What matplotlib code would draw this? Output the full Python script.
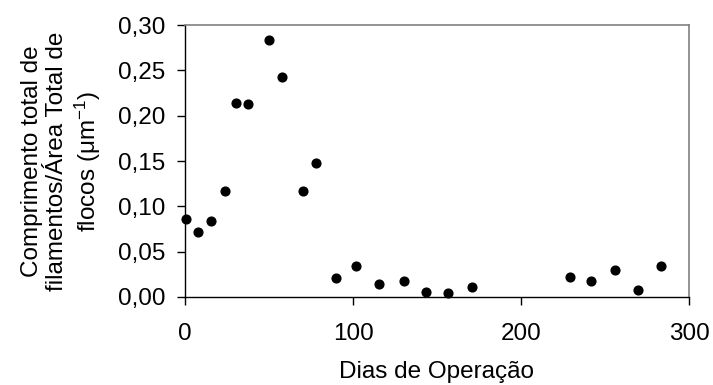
import matplotlib
matplotlib.use('Agg')
import matplotlib.pyplot as plt

plt.rcParams['font.family'] = ['Liberation Sans', 'DejaVu Sans']
plt.rcParams['mathtext.fontset'] = 'custom'
plt.rcParams['mathtext.rm'] = 'Liberation Sans'
plt.rcParams['mathtext.it'] = 'Liberation Sans:italic'

# dias de operacao x razao comprimento de filamentos / area de flocos
dias = [0.4, 7.9, 15.3, 23.6, 30.2, 37.3, 50.2, 57.7, 70.4, 77.8,
        89.9, 101.8, 115.7, 130.4, 143.2, 156.8, 170.8,
        229.0, 241.9, 255.8, 269.4, 283.3]
razao = [0.086, 0.072, 0.084, 0.117, 0.214, 0.2125, 0.283, 0.243, 0.117, 0.1475,
         0.021, 0.0345, 0.014, 0.0176, 0.0055, 0.004, 0.0107,
         0.0224, 0.0176, 0.0298, 0.0074, 0.0345]

xticks = [0, 100, 200, 300]
yticks = [0.00, 0.05, 0.10, 0.15, 0.20, 0.25, 0.30]
ytick_labels = ['0,00', '0,05', '0,10', '0,15', '0,20', '0,25', '0,30']

fig = plt.figure(figsize=(7.13, 3.85), dpi=100)
ax = fig.add_axes([0.2595, 0.2286, 0.7068, 0.7064])

ax.plot(dias, razao, 'o', color='black', markersize=6.3, clip_on=False)

ax.set_xlim(0, 300)
ax.set_ylim(0, 0.30)
ax.set_xticks(xticks)
ax.set_xticklabels([str(t) for t in xticks])
ax.set_yticks(yticks)
ax.set_yticklabels(ytick_labels)

ax.tick_params(direction='out', length=6, width=1, labelsize=17.5, colors='black')
ax.tick_params(axis='x', pad=13)
ax.tick_params(axis='y', pad=8)
for side in ['left', 'bottom']:
    ax.spines[side].set_color('black')
    ax.spines[side].set_linewidth(1)
for side in ['top', 'right']:
    ax.spines[side].set_color('#808080')
    ax.spines[side].set_linewidth(1.2)

ax.set_xlabel('Dias de Operação', fontsize=17.5, labelpad=11)
ax.set_ylabel('Comprimento total de\nfilamentos/Área Total de\nflocos (μm$^{-1}$)',
              fontsize=17.5, labelpad=11, linespacing=1.2)

fig.savefig('out.png', dpi=100)
